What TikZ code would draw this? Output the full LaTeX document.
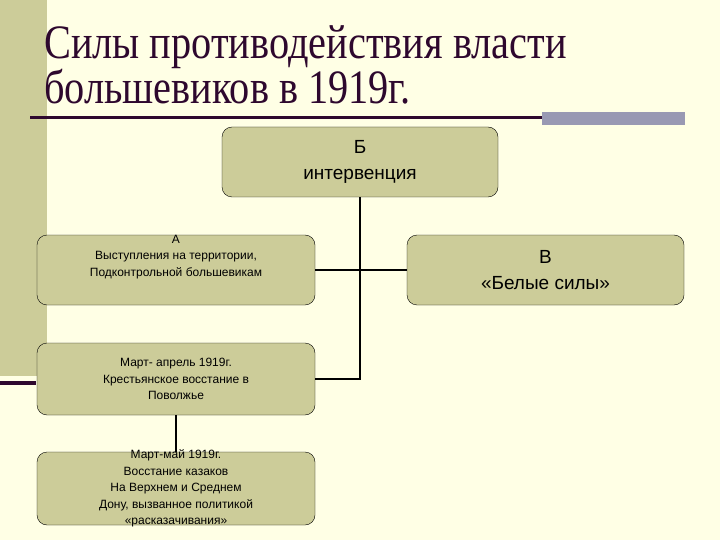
\documentclass[tikz,border=0pt]{standalone}
\usepackage{fontspec}
\setmainfont{Liberation Serif}
\setsansfont{Liberation Sans}
\usetikzlibrary{positioning,calc}
\definecolor{slidebg}{RGB}{255,255,229}
\definecolor{olive}{RGB}{204,204,153}
\definecolor{plum}{RGB}{46,8,46}
\definecolor{lavgrey}{RGB}{153,153,179}
\newcommand{\narrow}[1]{\scalebox{0.84}[1]{#1}}

\begin{document}
\begin{tikzpicture}[
  x=1pt, y=-1pt,
  box/.style={draw, fill=olive, rounded corners=10pt, minimum width=278pt, minimum height=70pt, inner sep=0pt},
  small/.style={font=\sffamily\fontsize{12}{16.5}\selectfont, align=center, inner sep=0pt},
  big/.style={font=\sffamily\fontsize{19}{26}\selectfont, align=center},
  link/.style={line width=2.5pt}
]
\useasboundingbox (0,0) rectangle (720,540);
% slide background
\fill[slidebg] (0,0) rectangle (720,540);
\fill[olive] (0,0) rectangle (47,376);
\fill[plum] (0,381) rectangle (36,385);
\draw[plum, line width=3pt] (30,118) -- (542,118);
\fill[lavgrey] (542,112) rectangle (685,125);

\node[anchor=north west, inner sep=0pt, align=left, text=plum,
  font=\fontsize{48}{43}\selectfont] (title) at (44,25)
  {\narrow{Силы противодействия власти}\\\narrow{большевиков в 1919г.}};

% boxes
\node[box, big, minimum width=276pt] (interv) at (360,162) {Б\\интервенция};
\node[box] (inside) at (176,270) {};
\node[small, anchor=north] (insidetext) at (inside.north)
  {А\\Выступления на территории,\\Подконтрольной большевикам};
\node[box, big, minimum width=277pt] (white) at (545.5,270) {В\\«Белые силы»};
\node[box, small, minimum height=72pt] (volga) at (176,379)
  {Март- апрель 1919г.\\Крестьянское восстание в\\Поволжье};
\node[box, minimum height=73pt] (don) at (176,488.5) {};
\node[small] (dontext) at (don.center)
  {Март-май 1919г.\\Восстание казаков\\На Верхнем и Среднем\\Дону, вызванное политикой\\«расказачивания»};

% connectors
\draw[link] (interv.south) -- (interv.south |- volga.east) -- (volga.east);
\draw[link] (inside.east) -- (white.west);
\draw[link] (volga.south) -- (don.north);
\end{tikzpicture}
\end{document}
